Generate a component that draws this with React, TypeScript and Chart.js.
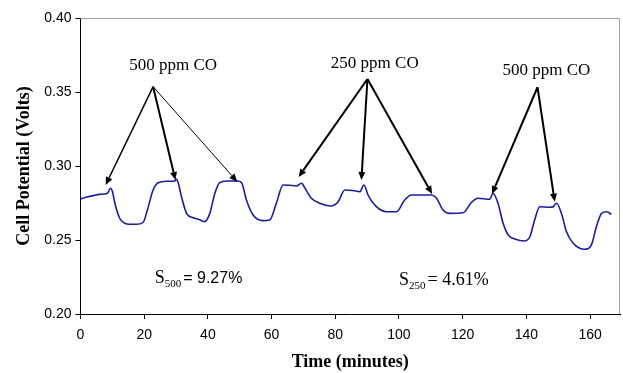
import React, { useEffect, useRef } from 'react';
import { Chart, registerables } from 'chart.js';

Chart.register(...registerables);

// ---- data ----
const timeMin = [
  0, 2, 4, 6, 8.5, 9.4, 10, 10.8, 12.3, 13.9, 15.5, 17.5, 19.7, 21, 22.8, 24.4, 27, 29.6, 30.1, 30.7,
  31.7, 33.3, 35.4, 37, 39, 40.6, 42.2, 43.7, 46, 49.5, 50.7, 52.1, 54.2, 57.3, 59.4, 61.5, 63.6, 65.5,
  67.8, 69.4, 70.5, 72.5, 75.1, 78.6, 80.9, 83, 85.5, 87.7, 89, 90.3, 92.9, 96.1, 99.2, 101.8, 103.9,
  107, 110.2, 111.8, 113.8, 116, 120.1, 122.8, 124.8, 128.5, 129.5, 131.1, 132.7, 134.3, 136.4, 139.3,
  141.1, 142.6, 144.2, 147.4, 148.4, 149.5, 151, 152.6, 154.7, 158.3, 160.4, 162, 163.6, 165.2, 166.7,
];
const cellVolts = [
  0.2777, 0.279, 0.28, 0.2808, 0.2816, 0.285, 0.283, 0.2748, 0.2647, 0.2613, 0.2606, 0.2606, 0.262,
  0.2703, 0.2838, 0.2887, 0.2897, 0.2899, 0.2912, 0.2885, 0.2793, 0.268, 0.265, 0.264, 0.2624, 0.268,
  0.2816, 0.2887, 0.2899, 0.2899, 0.2883, 0.277, 0.2669, 0.2631, 0.2635, 0.2748, 0.2872, 0.287, 0.2865,
  0.2883, 0.285, 0.2782, 0.2748, 0.273, 0.2759, 0.2838, 0.2835, 0.2826, 0.2872, 0.2804, 0.2725, 0.2691,
  0.2691, 0.277, 0.2804, 0.2804, 0.2804, 0.2782, 0.2703, 0.268, 0.2684, 0.2755, 0.2782, 0.2775, 0.2816,
  0.2748, 0.2613, 0.2534, 0.2507, 0.2493, 0.2522, 0.2635, 0.2725, 0.2721, 0.2725, 0.2748, 0.268, 0.2556,
  0.2478, 0.2437, 0.2466, 0.259, 0.268, 0.2691, 0.2674,
];

// annotation labels and arrows (data coordinates)
const labelTexts = ['500 ppm CO', '250 ppm CO', '500 ppm CO'];
const labelT = [29.1, 92.4, 146.3];
const labelV = [0.3682, 0.3689, 0.3644];
const apexT = [22.8, 90.1, 143.5];
const apexV = [0.3536, 0.3588, 0.3532];
const arrowGroup = [0, 0, 0, 1, 1, 1, 2, 2];
const arrowTipT = [7.9, 29.8, 49.2, 68.5, 88.2, 110.4, 129.2, 148.9];
const arrowTipV = [0.2872, 0.2905, 0.2894, 0.2926, 0.2905, 0.2811, 0.2811, 0.2759];

const sensSub = ['500', '250'];
const sensValue = ['9.27%', '4.61%'];
const sensT = [23.3, 100];
const sensV = [0.2209, 0.2198];

const arrowWidths = [1.5, 2, 1, 2, 2, 2, 2, 2];

const annotationPlugin = {
  id: 'annotations',
  beforeDatasetsDraw(chart: any) {
    const { ctx, chartArea } = chart;
    ctx.save();
    ctx.strokeStyle = '#a0a0a0';
    ctx.lineWidth = 1;
    ctx.beginPath();
    ctx.moveTo(chartArea.left, chartArea.top + 0.5);
    ctx.lineTo(chartArea.right - 0.5, chartArea.top + 0.5);
    ctx.lineTo(chartArea.right - 0.5, chartArea.bottom);
    ctx.stroke();
    ctx.restore();
  },
  afterDatasetsDraw(chart: any) {
    const { ctx } = chart;
    const xs = chart.scales.x;
    const ys = chart.scales.y;
    ctx.save();
    ctx.fillStyle = '#000';
    ctx.strokeStyle = '#000';
    // arrows
    arrowTipT.forEach((t, i) => {
      const g = arrowGroup[i];
      const x0 = xs.getPixelForValue(apexT[g]);
      const y0 = ys.getPixelForValue(apexV[g]);
      const x1 = xs.getPixelForValue(t);
      const y1 = ys.getPixelForValue(arrowTipV[i]);
      const ang = Math.atan2(y1 - y0, x1 - x0);
      const hl = 8;
      const hw = 3.5;
      const bx = x1 - hl * Math.cos(ang);
      const by = y1 - hl * Math.sin(ang);
      ctx.lineWidth = arrowWidths[i];
      ctx.beginPath();
      ctx.moveTo(x0, y0);
      ctx.lineTo(bx, by);
      ctx.stroke();
      ctx.beginPath();
      ctx.moveTo(x1, y1);
      ctx.lineTo(bx + hw * Math.sin(ang), by - hw * Math.cos(ang));
      ctx.lineTo(bx - hw * Math.sin(ang), by + hw * Math.cos(ang));
      ctx.closePath();
      ctx.fill();
    });
    // labels
    ctx.font = '17px "Liberation Serif"';
    ctx.textAlign = 'center';
    ctx.textBaseline = 'middle';
    labelTexts.forEach((txt, i) => {
      ctx.fillText(txt, xs.getPixelForValue(labelT[i]), ys.getPixelForValue(labelV[i]));
    });
    // sensitivity texts
    ctx.textAlign = 'left';
    ctx.textBaseline = 'alphabetic';
    sensSub.forEach((sub, i) => {
      let x = xs.getPixelForValue(sensT[i]);
      const y = ys.getPixelForValue(sensV[i]);
      ctx.font = '18px "Liberation Serif"';
      ctx.fillText('S', x, y);
      x += ctx.measureText('S').width;
      ctx.font = '11px "Liberation Serif"';
      ctx.fillText(sub, x, y + 4);
      x += ctx.measureText(sub).width + 2;
      if (i === 0) {
        ctx.font = '16px "Liberation Sans"';
        ctx.fillText('= ' + sensValue[i], x, y);
      } else {
        ctx.font = '18px "Liberation Serif"';
        ctx.fillText('= ' + sensValue[i], x, y);
      }
    });
    ctx.restore();
  },
};

export default function App() {
  const canvasRef = useRef<HTMLCanvasElement | null>(null);

  useEffect(() => {
    document.body.style.margin = '0';
    const canvas = canvasRef.current;
    if (!canvas) return;
    const chart = new Chart(canvas, {
      type: 'line',
      data: {
        datasets: [
          {
            data: timeMin.map((t, i) => ({ x: t, y: cellVolts[i] })),
            borderColor: '#1c1c9c',
            borderWidth: 1.6,
            pointRadius: 0,
            cubicInterpolationMode: 'monotone',
            fill: false,
          },
        ],
      },
      options: {
        responsive: false,
        animation: false,
        devicePixelRatio: 1,
        layout: { padding: { top: 18, right: 3, left: 0, bottom: 0 } },
        plugins: { legend: { display: false }, tooltip: { enabled: false } },
        scales: {
          x: {
            type: 'linear',
            min: 0,
            max: 169.4,
            afterFit(scale: any) {
              scale.height = 59;
            },
            border: { color: '#000', width: 1 },
            grid: { drawOnChartArea: false, drawTicks: true, tickLength: 5, color: '#000' },
            ticks: {
              stepSize: 20,
              includeBounds: false,
              padding: 8,
              color: '#000',
              font: { family: '"Liberation Sans"', size: 14 },
              maxRotation: 0,
            },
            title: {
              display: true,
              text: 'Time (minutes)',
              color: '#000',
              font: { family: '"Liberation Serif"', size: 18, weight: 'bold' },
              padding: { top: 0, bottom: 0 },
            },
          },
          y: {
            type: 'linear',
            min: 0.2,
            max: 0.4,
            afterFit(scale: any) {
              scale.width = 80.5;
            },
            border: { color: '#000', width: 1 },
            grid: { drawOnChartArea: false, drawTicks: true, tickLength: 5, color: '#000' },
            ticks: {
              stepSize: 0.05,
              padding: 4,
              color: '#000',
              font: { family: '"Liberation Sans"', size: 14 },
              callback: (v: any) => Number(v).toFixed(2),
            },
            title: {
              display: true,
              text: 'Cell Potential (Volts)',
              color: '#000',
              font: { family: '"Liberation Serif"', size: 18, weight: 'bold' },
              padding: { top: 14, bottom: 0 },
            },
          },
        },
      },
      plugins: [annotationPlugin],
    });
    return () => chart.destroy();
  }, []);

  return (
    <div style={{ width: 623, height: 373, background: '#fff' }}>
      <canvas ref={canvasRef} width={623} height={373} />
    </div>
  );
}
